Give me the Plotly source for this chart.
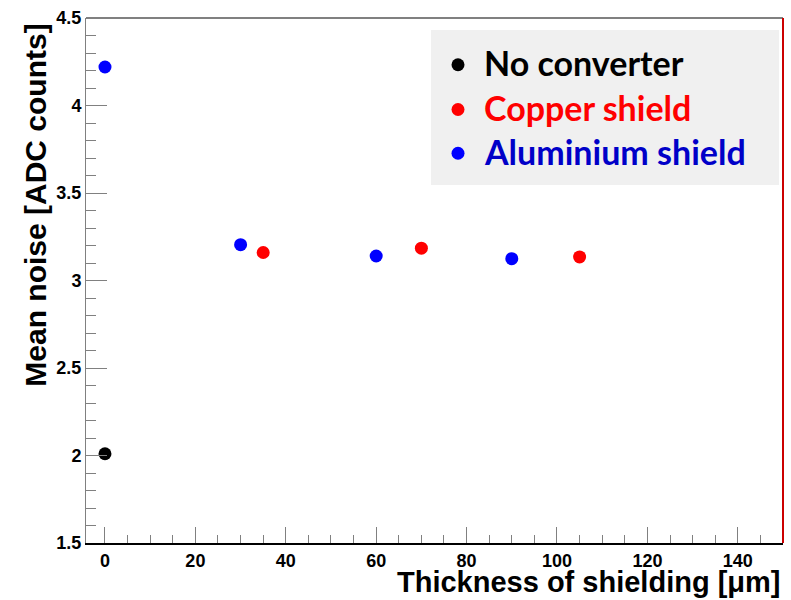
import plotly.graph_objects as go

# Mean noise vs. shielding thickness
no_conv_x = [0]
no_conv_y = [2.01]
copper_x = [35, 70, 105]
copper_y = [3.16, 3.185, 3.135]
alu_x = [0, 30, 60, 90]
alu_y = [4.22, 3.205, 3.14, 3.125]

series_names = ["No converter", "Copper shield", "Aluminium shield"]
marker_colors = ["#000000", "#ff0000", "#0000ff"]
label_colors = ["#000000", "#ff0000", "#0000c8"]

x_title = "Thickness of shielding [μm]"
y_title = "Mean noise [ADC counts]"

# plot-area geometry in pixels, used to place the legend box
W, H = 791, 600
ML, MR, MT, MB = 86, 8, 15, 57
PW, PH = W - ML - MR, H - MT - MB


def px_x(px):
    return (px - ML) / PW


def px_y(py):
    return (H - MB - py) / PH


fig = go.Figure()
for i, (xs, ys) in enumerate([(no_conv_x, no_conv_y), (copper_x, copper_y), (alu_x, alu_y)]):
    fig.add_trace(go.Scatter(
        x=xs, y=ys, mode="markers",
        marker=dict(color=marker_colors[i], size=13, line=dict(width=0)),
        name=series_names[i], showlegend=False,
    ))

tick_font = dict(family="Liberation Sans, Arial", size=18, color="black", weight="bold")

# legend box drawn as a shaded panel with bullets and coloured labels
legend_rows_py = [62, 107, 151]
shapes = [
    dict(type="rect", xref="paper", yref="paper",
         x0=px_x(431), x1=px_x(779), y0=px_y(183), y1=px_y(27),
         fillcolor="#f0f0f0", line=dict(width=0), layer="below"),
]
annotations = []
for i, row in enumerate(legend_rows_py):
    shapes.append(dict(type="circle", xref="paper", yref="paper",
                       xsizemode="pixel", ysizemode="pixel",
                       xanchor=px_x(458), yanchor=px_y(row),
                       x0=-6.5, x1=6.5, y0=-6.5, y1=6.5,
                       fillcolor=marker_colors[i], line=dict(width=0)))
    annotations.append(dict(text=series_names[i], xref="paper", yref="paper",
                            x=px_x(482), y=px_y(row - 2), xanchor="left", yanchor="middle",
                            showarrow=False,
                            font=dict(family="Lato", size=34, color=label_colors[i], weight="bold")))

shapes += [
    dict(type="line", xref="paper", yref="paper", x0=0, x1=1, y0=1, y1=1,
         line=dict(color="#808080", width=2)),
    dict(type="line", xref="paper", yref="paper", x0=1, x1=1, y0=0, y1=1,
         line=dict(color="#cc0000", width=2)),
]

annotations += [
    dict(text=x_title, xref="paper", yref="paper", x=1.0, y=-0.075,
         xanchor="right", yanchor="middle", showarrow=False,
         font=dict(family="Liberation Sans, Arial", size=29, color="black", weight="bold")),
    dict(text=y_title, xref="paper", yref="paper", x=-0.072, y=0.644,
         xanchor="center", yanchor="middle", textangle=-90, showarrow=False,
         font=dict(family="Liberation Sans, Arial", size=30, color="black", weight="bold")),
]

fig.update_layout(
    width=W, height=H,
    margin=dict(l=ML, r=MR, t=MT, b=MB),
    paper_bgcolor="white", plot_bgcolor="white",
    showlegend=False,
    xaxis=dict(
        range=[-4.2, 150], showgrid=False, zeroline=False,
        showline=True, linecolor="black", linewidth=2,
        ticks="inside", ticklen=16, tickwidth=1, tickcolor="#808080",
        dtick=20, tick0=0, tickfont=tick_font,
        minor=dict(dtick=5, ticks="inside", ticklen=8, tickcolor="#808080", showgrid=False),
    ),
    yaxis=dict(
        range=[1.5, 4.5], showgrid=False, zeroline=False,
        showline=True, linecolor="#808080", linewidth=1,
        ticks="inside", ticklen=21, tickwidth=1, tickcolor="#808080",
        dtick=0.5, tick0=1.5, tickfont=tick_font, tickformat="~g",
        minor=dict(dtick=0.1, ticks="inside", ticklen=10, tickcolor="#808080", showgrid=False),
    ),
    annotations=annotations,
    shapes=shapes,
)

fig.write_html("out.html")
